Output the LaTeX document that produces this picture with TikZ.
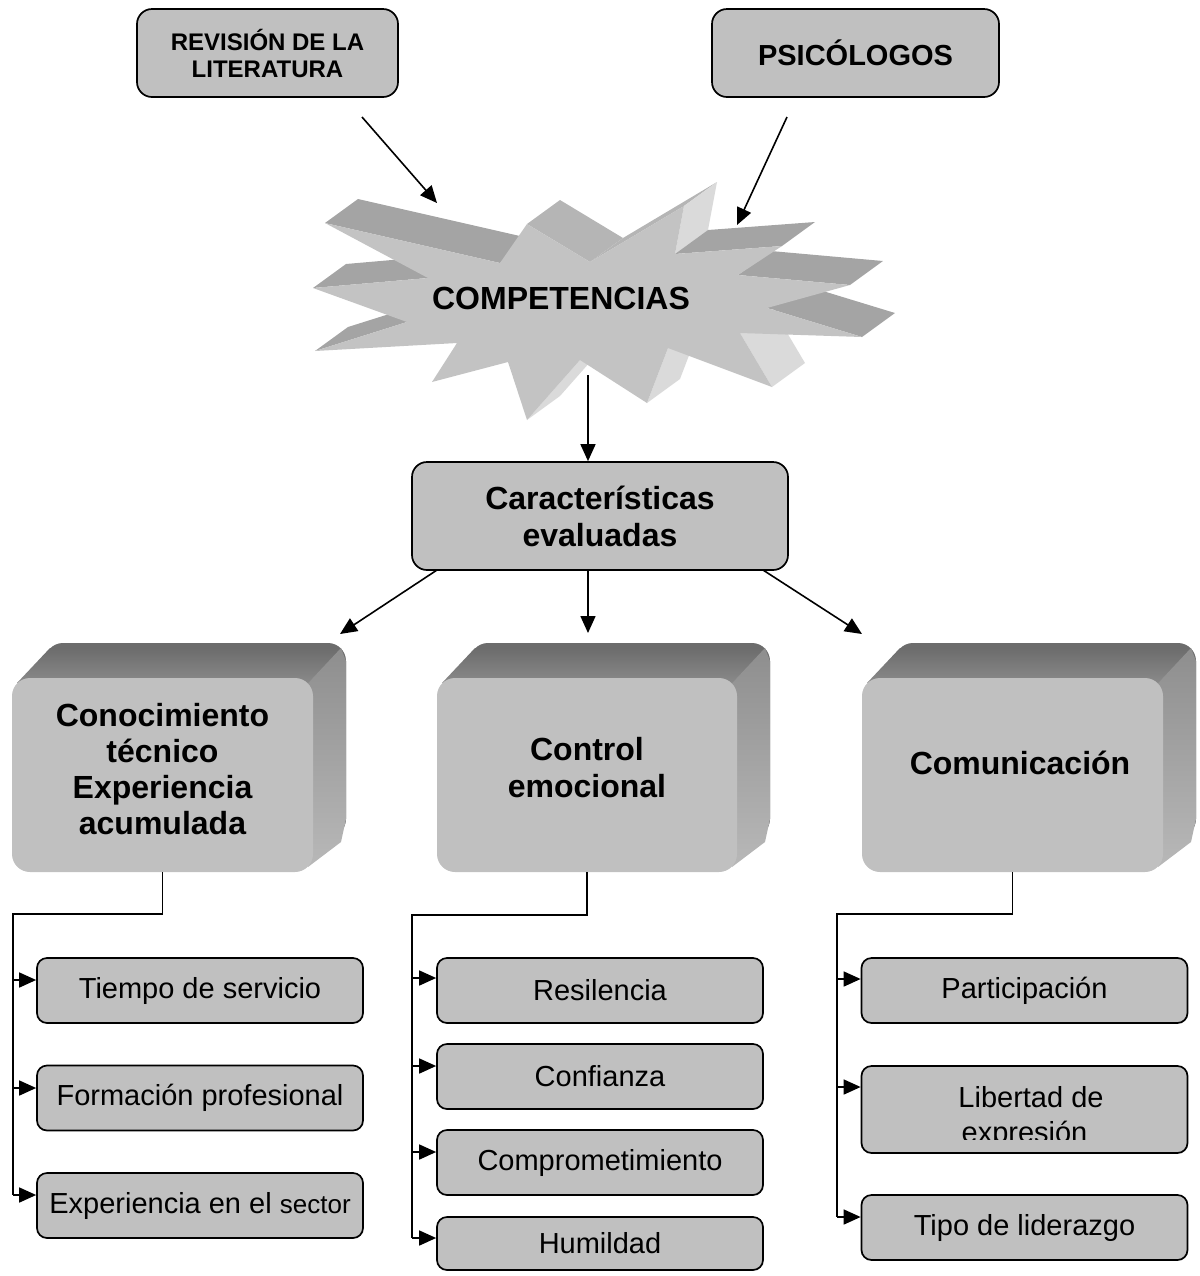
\documentclass[tikz,border=0pt]{standalone}
\usepackage{fontspec}
\setmainfont{Liberation Sans}
\usetikzlibrary{arrows.meta,calc}
\definecolor{boxgray}{HTML}{C0C0C0}
\definecolor{burstfront}{HTML}{C3C3C3}
\definecolor{burstdark}{HTML}{A4A4A4}
\definecolor{burstmid}{HTML}{B5B5B5}
\definecolor{burstlight}{HTML}{DADADA}
\definecolor{cubetopA}{HTML}{6C6C6C}
\definecolor{cubetopB}{HTML}{8A8A8A}
\definecolor{cubesideA}{HTML}{8E8E8E}
\definecolor{cubesideB}{HTML}{B8B8B8}
\newcommand\burstside[3]{\fill[#3] (#1) -- (#2) -- ($(#2)+(33,-24)$) -- ($(#1)+(33,-24)$) -- cycle;}
\newcommand\cubeback[4]{%
  \fill[cubetopA, rounded corners=9pt] ({#1+33},{#2-35}) rectangle ({#3+33},{#4-35});
  \shade[top color=cubetopA, bottom color=cubetopB] ({#1+5},{#2+5}) -- ({#1+38},{#2-30}) -- ({#3+28},{#2-30}) -- ({#3-5},{#2+5}) -- cycle;
  \shade[top color=cubesideA, bottom color=cubesideB] ({#3-5},{#2+5}) -- ({#3+28},{#2-30}) -- ({#3+33},{#2-17}) -- ({#3+33},{#4-53}) -- ({#3+28},{#4-30}) -- ({#3-5},{#4-5}) -- cycle;
}
\begin{document}
\begin{tikzpicture}[x=0.5pt,y=-0.5pt,
  flat/.style={draw=black, line width=0.85pt, fill=boxgray, inner sep=0pt, align=center},
  smalltxt/.style={font=\fontsize{14.5}{17.5}\selectfont},
  headtxt/.style={font=\bfseries\fontsize{16}{18.5}\selectfont, align=center},
  arr/.style={line width=0.8pt, -{Triangle[length=8.5pt,width=7.5pt]}},
  conn/.style={line width=0.8pt},
  front3d/.style={fill=boxgray, rounded corners=9pt, inner sep=0pt}]
\useasboundingbox (0,0) rectangle (1200,1276);

% ---------- top boxes ----------
\node[flat, rounded corners=7.5pt, minimum width=130.5pt, minimum height=44pt,
      font=\bfseries\fontsize{12}{13.5}\selectfont] (rev) at (267.5,53) {REVISIÓN DE LA\\LITERATURA};
\node[flat, rounded corners=7.5pt, minimum width=143.5pt, minimum height=44pt,
      font=\bfseries\fontsize{14.5}{17}\selectfont] (psi) at (855.5,53) {PSICÓLOGOS};

% ---------- starburst ----------
\coordinate (P1) at (325,223);
\coordinate (P2) at (500,263);
\coordinate (P3) at (527,224);
\coordinate (P4) at (590,262);
\coordinate (P5) at (684,206);
\coordinate (P6) at (675,254);
\coordinate (P7) at (782,246);
\coordinate (P8) at (738,275);
\coordinate (P9) at (850,285);
\coordinate (P10) at (767,308);
\coordinate (P11) at (862,337);
\coordinate (P12) at (740,333);
\coordinate (P13) at (772,387);
\coordinate (P14) at (668,348);
\coordinate (P15) at (647,403);
\coordinate (P16) at (580,360);
\coordinate (P17) at (527,420);
\coordinate (P18) at (508,362);
\coordinate (P19) at (432,382);
\coordinate (P20) at (457,343);
\coordinate (P21) at (315,351);
\coordinate (P22) at (407,322);
\coordinate (P23) at (313,288);
\coordinate (P24) at (428,278);
\burstside{P1}{P2}{burstdark}
\burstside{P3}{P4}{burstmid}
\burstside{P4}{P5}{burstmid}
\burstside{P5}{P6}{burstlight}
\burstside{P6}{P7}{burstdark}
\burstside{P8}{P9}{burstdark}
\burstside{P10}{P11}{burstdark}
\burstside{P12}{P13}{burstlight}
\burstside{P14}{P15}{burstlight}
\burstside{P16}{P17}{burstlight}
\burstside{P21}{P22}{burstdark}
\burstside{P23}{P24}{burstdark}
\fill[burstfront] (P1) -- (P2) -- (P3) -- (P4) -- (P5) -- (P6) -- (P7) -- (P8) -- (P9) -- (P10)
  -- (P11) -- (P12) -- (P13) -- (P14) -- (P15) -- (P16) -- (P17) -- (P18) -- (P19) -- (P20)
  -- (P21) -- (P22) -- (P23) -- (P24) -- cycle;
\node[font=\bfseries\fontsize{16}{19}\selectfont] (comp) at (561,298) {COMPETENCIAS};

% ---------- central box ----------
\node[flat, rounded corners=7.5pt, minimum width=188pt, minimum height=54pt, headtxt] (char) at (600,516) {Características\\evaluadas};

% ---------- 3D boxes ----------
\cubeback{12}{678}{313}{872}
\node[front3d, minimum width=150.5pt, minimum height=97pt] (k1) at (162.5,775) {};
\node[headtxt, font=\bfseries\fontsize{16}{18}\selectfont] (k1t) at (162.5,769) {Conocimiento\\técnico\\Experiencia\\acumulada};

\cubeback{437}{678}{737}{872}
\node[front3d, minimum width=150pt, minimum height=97pt] (k2) at (587,775) {};
\node[headtxt] (k2t) at (587,768) {Control\\emocional};

\cubeback{862}{678}{1163}{872}
\node[front3d, minimum width=150.5pt, minimum height=97pt] (k3) at (1012.5,775) {};
\node[headtxt] (k3t) at (1020,763) {Comunicación};

% ---------- small boxes ----------
\tikzset{leaf/.style={flat, rounded corners=5pt, minimum width=163pt, minimum height=32.5pt, smalltxt}}
\node[leaf] (t1) at (200,990.5) {Tiempo de servicio};
\node[leaf] (t2) at (200,1098) {Formación profesional};
\node[leaf] (t3) at (200,1205.5) {Experiencia en el {\fontsize{13}{15}\selectfont sector}};

\node[leaf] (m1) at (600,990.5) {Resilencia};
\node[leaf] (m2) at (600,1076.5) {Confianza};
\node[leaf] (m3) at (600,1162.5) {Comprometimiento};
\node[leaf, minimum height=26.5pt] (m4) at (600,1243.5) {Humildad};

\node[leaf] (r1) at (1024.5,990.5) {Participación};
\node[leaf, minimum height=43.5pt] (r2) at (1024.5,1109.5) {};
\node[smalltxt, anchor=base] (r2a) at (1031,1107) {Libertad de};
\begin{scope}
  \clip (862,1066) rectangle (1187,1139);
  \node[smalltxt, anchor=base] (r2b) at (1024.5,1142) {expresión};
\end{scope}
\node[leaf] (r3) at (1024.5,1227.5) {Tipo de liderazgo};

% ---------- connectors ----------
\coordinate (revS) at (362,117);
\coordinate (burstL) at (437,203);
\draw[arr] (revS) -- (burstL);
\coordinate (psiS) at (787,117);
\coordinate (burstR) at (737,225);
\draw[arr] (psiS) -- (burstR);
\coordinate (burstB) at (588,375);
\draw[arr] (burstB) -- (burstB |- char.north);

\coordinate (chL) at (437,570);
\coordinate (k1in) at (340,634);
\draw[arr] (chL) -- (k1in);
\coordinate (chM) at (588,570);
\coordinate (k2in) at (588,633);
\draw[arr] (chM) -- (k2in);
\coordinate (chR) at (763,570);
\coordinate (k3in) at (862,634);
\draw[arr] (chR) -- (k3in);

% left bus
\coordinate (busL) at (13,914);
\path ($(t1.west)+(0,-10.5)$) coordinate (t1in);
\path ($(t2.west)+(0,-10)$) coordinate (t2in);
\path ($(t3.west)+(0,-10.5)$) coordinate (t3in);
\draw[conn] (k1.south) |- (busL) -- (busL |- t3in);
\draw[arr] (busL |- t1in) -- (t1in);
\draw[arr] (busL |- t2in) -- (t2in);
\draw[arr] (busL |- t3in) -- (t3in);

% middle bus
\coordinate (busM) at (412,915);
\path ($(m1.west)+(0,-12.5)$) coordinate (m1in);
\path ($(m2.west)+(0,-10.5)$) coordinate (m2in);
\path ($(m3.west)+(0,-10.5)$) coordinate (m3in);
\path ($(m4.west)+(0,-5.5)$) coordinate (m4in);
\draw[conn] (k2.south) |- (busM) -- (busM |- m4in);
\draw[arr] (busM |- m1in) -- (m1in);
\draw[arr] (busM |- m2in) -- (m2in);
\draw[arr] (busM |- m3in) -- (m3in);
\draw[arr] (busM |- m4in) -- (m4in);

% right bus
\coordinate (busR) at (837,914);
\path ($(r1.west)+(0,-11.5)$) coordinate (r1in);
\path ($(r2.west)+(0,-22.5)$) coordinate (r2in);
\path ($(r3.west)+(0,-10.5)$) coordinate (r3in);
\draw[conn] (k3.south) |- (busR) -- (busR |- r3in);
\draw[arr] (busR |- r1in) -- (r1in);
\draw[arr] (busR |- r2in) -- (r2in);
\draw[arr] (busR |- r3in) -- (r3in);
\end{tikzpicture}
\end{document}
